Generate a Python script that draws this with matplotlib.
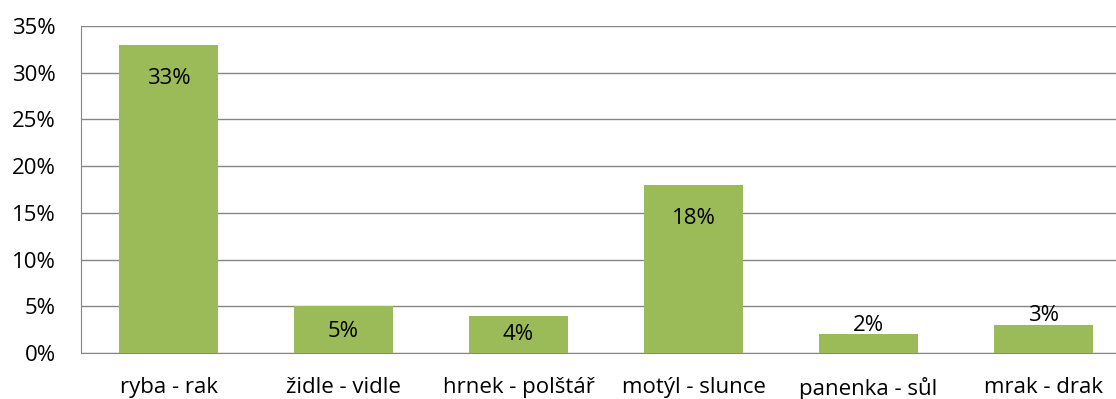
import matplotlib
matplotlib.use("Agg")
import matplotlib.pyplot as plt
from matplotlib.ticker import FuncFormatter, MultipleLocator

categories = ["ryba - rak", "židle - vidle", "hrnek - polštář", "motýl - slunce",
              "panenka - sůl", "mrak - drak"]
values = [33, 5, 4, 18, 2, 3]
# vertical offsets (points) of the value labels relative to the bar top
label_offsets = [-24.5, -18, -13.5, -24.5, 6.5, 6.5]

plt.rcParams['font.family'] = ['Open Sans', 'DejaVu Sans']

W, H = 1116, 399
fig = plt.figure(figsize=(W / 100, H / 100), dpi=100)
left, bottom, top = 81, 353, 26
ax = fig.add_axes([left / W, 1 - bottom / H, 1050 / W, (bottom - top) / H])

green = "#9BBB59"
grid = "#868686"
x = range(len(categories))
ax.bar(x, values, width=0.57, color=green, zorder=3)

for xi, v, off in zip(x, values, label_offsets):
    ax.annotate(f"{v}%", (xi, v), xytext=(0, off), textcoords="offset points",
                ha="center", va="center", fontsize=16, color="black", zorder=4)

ax.set_xlim(-0.5, len(categories) - 0.5)
ax.set_ylim(0, 35)
ax.yaxis.set_major_locator(MultipleLocator(5))
ax.yaxis.set_major_formatter(FuncFormatter(lambda v, p: f"{v:.0f}%"))
ax.set_xticks(list(x))
ax.set_xticklabels(categories)
ax.tick_params(axis="both", length=0, labelsize=16, colors="black")
ax.tick_params(axis="x", pad=17)
ax.tick_params(axis="y", pad=18)
ax.grid(axis="y", color=grid, linewidth=1, zorder=0)
for s in ("top", "right"):
    ax.spines[s].set_visible(False)
ax.spines["left"].set_color(grid)
ax.spines["bottom"].set_color(grid)

fig.savefig("out.png", dpi=100)
